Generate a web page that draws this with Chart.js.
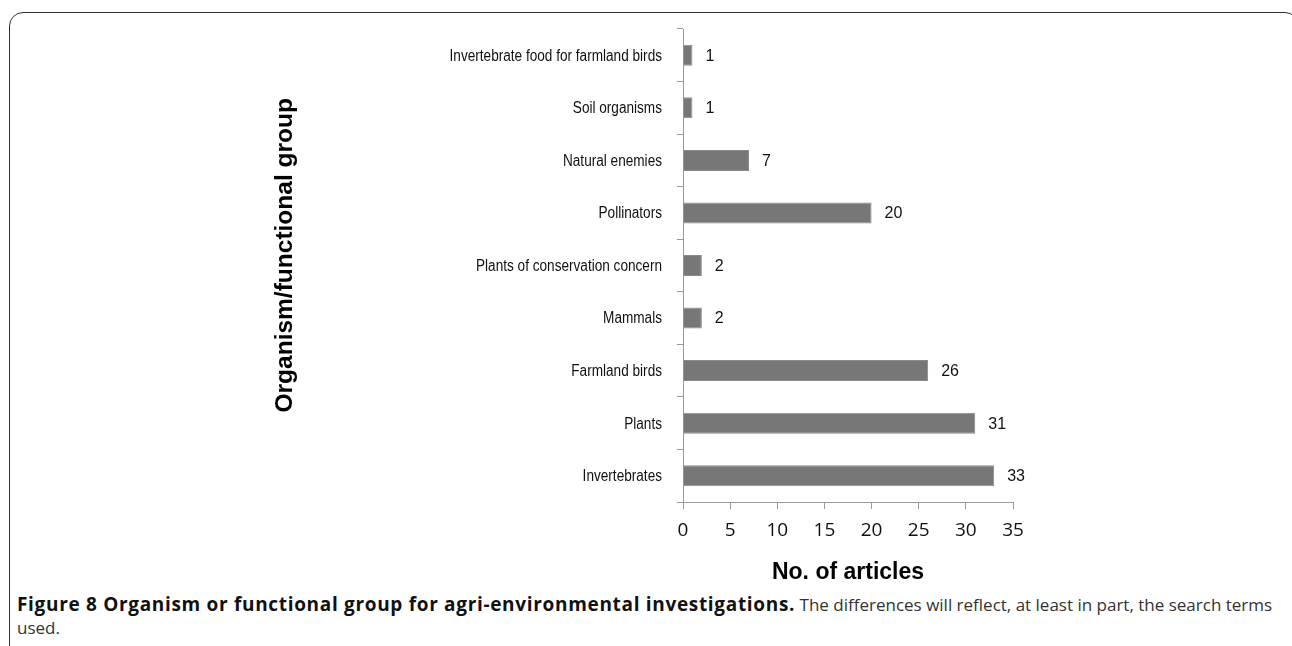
<!DOCTYPE html>
<html>
<head>
<meta charset="utf-8">
<script src="https://cdn.jsdelivr.net/npm/chart.js@4"></script>
<style>
  body { margin: 0; background: #fff; width: 1292px; height: 646px; overflow: hidden; position: relative; }
  #frame { position: absolute; left: 9px; top: 12px; width: 1290px; height: 700px; border: 1.5px solid #333; border-radius: 14px; box-sizing: border-box; }
  #wrap { position: absolute; left: 0; top: 0; width: 1292px; height: 590px; }
  #caption { position: absolute; left: 17px; top: 593px; font-family: "Open Sans", sans-serif; font-size: 17px; line-height: 23px; color: #333; white-space: nowrap; }
  #caption b { color: #111; font-size: 19px; letter-spacing: 0.68px; }
</style>
</head>
<body>
<div id="frame"></div>
<div id="wrap"><canvas id="orgChart" width="1292" height="590"></canvas></div>
<div id="caption"><b>Figure 8 Organism or functional group for agri-environmental investigations.</b> The differences will reflect, at least in part, the search terms<br>used.</div>
<script>
// kategoriler yukaridan asagiya
const groups = [
  'Invertebrate food for farmland birds',
  'Soil organisms',
  'Natural enemies',
  'Pollinators',
  'Plants of conservation concern',
  'Mammals',
  'Farmland birds',
  'Plants',
  'Invertebrates',
];
const articleCounts = [1, 1, 7, 20, 2, 2, 26, 31, 33];
const xTicks = [0, 5, 10, 15, 20, 25, 30, 35];

const AXIS_GREY = '#9a9a9a';
const LABEL_FONT = '16px "Liberation Sans", Arial, sans-serif';

// bar sonuna deger yazisi + dar (condensed) kategori etiketleri
const valueLabels = {
  id: 'valueLabels',
  afterDatasetsDraw(chart) {
    const ctx = chart.ctx;
    const meta = chart.getDatasetMeta(0);
    ctx.save();
    ctx.font = '16px "Liberation Sans", Arial, sans-serif';
    ctx.fillStyle = '#111';
    ctx.textAlign = 'left';
    ctx.textBaseline = 'middle';
    meta.data.forEach((bar, i) => {
      ctx.fillText(String(articleCounts[i]), bar.x + 13, bar.y + 1);
    });
    ctx.restore();

    // y ekseni etiketleri, yatayda biraz sikistirilmis
    const yScale = chart.scales.y;
    const right = yScale.right - 6 - 15;
    groups.forEach((g, i) => {
      const y = yScale.getPixelForTick(i);
      ctx.save();
      ctx.translate(right, y + 1);
      ctx.scale(0.85, 1);
      ctx.font = LABEL_FONT;
      ctx.fillStyle = '#111';
      ctx.textAlign = 'right';
      ctx.textBaseline = 'middle';
      ctx.fillText(g, 0, 0);
      ctx.restore();
    });
  },
};

const config = {
  type: 'bar',
  data: {
    labels: groups,
    datasets: [
      {
        data: articleCounts,
        backgroundColor: '#777777',
        borderColor: '#8a8a8a',
        borderWidth: 1,
        barPercentage: 0.4,
        categoryPercentage: 1,
      },
    ],
  },
  options: {
    indexAxis: 'y',
    responsive: false,
    animation: false,
    layout: { padding: { left: 271, top: 29, right: 279, bottom: 4 } },
    plugins: {
      legend: { display: false },
      tooltip: { enabled: false },
    },
    scales: {
      x: {
        min: 0,
        max: 35,
        afterBuildTicks(scale) {
          scale.ticks = xTicks.map((v) => ({ value: v }));
        },
        afterFit(scale) {
          scale.height = 84;
        },
        grid: { drawOnChartArea: false, drawTicks: true, tickLength: 7, color: AXIS_GREY },
        border: { color: AXIS_GREY, width: 1 },
        ticks: {
          padding: 10,
          color: '#111',
          font: { family: '"Open Sans", sans-serif', size: 19 },
        },
        title: {
          display: true,
          text: 'No. of articles',
          color: '#000',
          padding: 0,
          font: { family: '"Liberation Sans", Arial, sans-serif', size: 23, weight: 'bold' },
        },
      },
      y: {
        afterFit(scale) {
          scale.width = 683 - 271;
        },
        grid: { drawOnChartArea: false, drawTicks: true, tickLength: 6, color: AXIS_GREY },
        border: { color: AXIS_GREY, width: 1 },
        ticks: { display: false },
        title: {
          display: true,
          text: '   Organism/functional group',
          color: '#000',
          padding: 0,
          font: { family: '"Liberation Sans", Arial, sans-serif', size: 24.5, weight: 'bold' },
        },
      },
    },
  },
  plugins: [valueLabels],
};

const orgChartInstance = new Chart(document.getElementById('orgChart'), config);
</script>
</body>
</html>
